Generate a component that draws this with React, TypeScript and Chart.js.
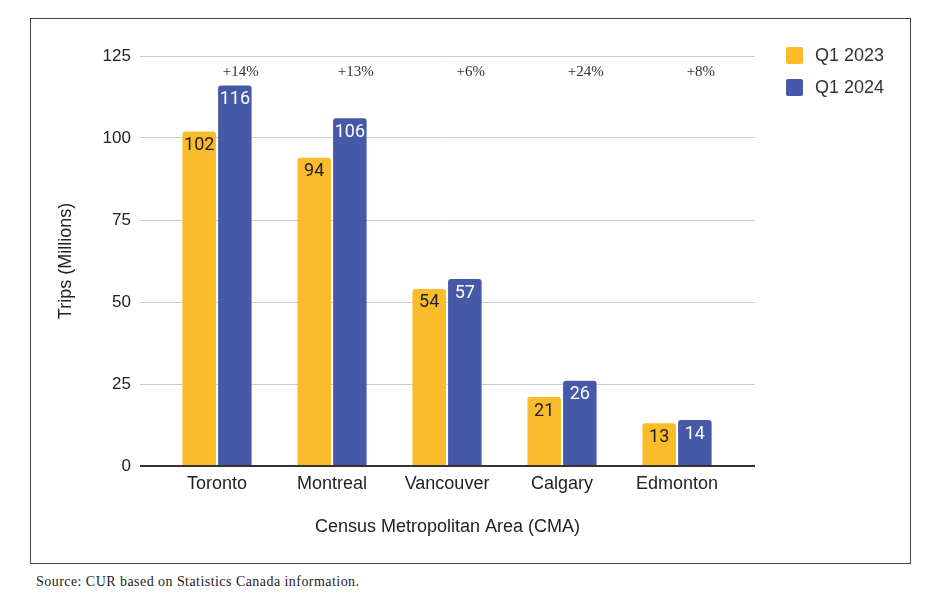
import React, { useEffect, useRef } from "react";
import { Chart, registerables } from "chart.js";

Chart.register(...registerables);

const categories = ["Toronto", "Montreal", "Vancouver", "Calgary", "Edmonton"];
const seriesNames = ["Q1 2023", "Q1 2024"];
const q12023 = [102, 94, 54, 21, 13];
const q12024 = [116, 106, 57, 26, 14];
const changeLabels = ["+14%", "+13%", "+6%", "+24%", "+8%"];
const yTicks = [0, 25, 50, 75, 100, 125];

const YELLOW = "#FBBC2C";
const BLUE = "#4559A8";
const SANS = "'Liberation Sans', Arial, sans-serif";

const labelsPlugin = {
  id: "labelsPlugin",
  afterDatasetsDraw(chart: any) {
    const ctx = chart.ctx;
    ctx.save();
    ctx.textAlign = "center";
    ctx.textBaseline = "middle";
    ctx.font = "18px Roboto, 'Liberation Sans', sans-serif";
    chart.data.datasets.forEach((ds: any, di: number) => {
      const meta = chart.getDatasetMeta(di);
      meta.data.forEach((bar: any, i: number) => {
        ctx.fillStyle = di === 0 ? "#1e1e1e" : "#ffffff";
        ctx.fillText(String(ds.data[i].y), bar.x, bar.y + 14);
      });
    });
    // percentage change labels
    const meta2 = chart.getDatasetMeta(1);
    ctx.font = "15px 'Liberation Serif', 'Times New Roman', serif";
    ctx.fillStyle = "#333";
    meta2.data.forEach((bar: any, i: number) => {
      ctx.fillText(changeLabels[i], bar.x + 6, chart.chartArea.top + 16);
    });
    ctx.restore();
  },
  afterDraw(chart: any) {
    const ctx = chart.ctx;
    const { right, top } = chart.chartArea;
    ctx.save();
    ctx.textAlign = "left";
    ctx.textBaseline = "middle";
    ctx.font = "18px " + SANS;
    chart.data.datasets.forEach((ds: any, di: number) => {
      const cy = top - 1 + di * 32;
      const x = right + 31;
      ctx.fillStyle = ds.backgroundColor;
      ctx.beginPath();
      ctx.roundRect(x, cy - 8, 17, 17, 2);
      ctx.fill();
      ctx.fillStyle = "#333";
      ctx.fillText(ds.label, x + 29, cy + 1);
    });
    ctx.restore();
  },
};

export default function App() {
  const ref = useRef<HTMLCanvasElement | null>(null);
  useEffect(() => {
    if (!ref.current) return;
    const chart = new Chart(ref.current, {
      type: "bar",
      data: {
        datasets: [
          {
            label: seriesNames[0],
            data: q12023.map((v, i) => ({ x: i, y: v })),
            backgroundColor: YELLOW,
            borderRadius: { topLeft: 3, topRight: 3 },
            borderSkipped: "bottom",
          },
          {
            label: seriesNames[1],
            data: q12024.map((v, i) => ({ x: i, y: v })),
            backgroundColor: BLUE,
            borderRadius: { topLeft: 3, topRight: 3 },
            borderSkipped: "bottom",
          },
        ],
      },
      options: {
        animation: false,
        responsive: false,
        devicePixelRatio: 1,
        categoryPercentage: 0.62,
        barPercentage: 0.94,
        layout: { padding: { top: 37, right: 155, left: 0, bottom: 0 } },
        plugins: { legend: { display: false }, tooltip: { enabled: false } },
        scales: {
          x: {
            type: "linear",
            min: -0.67,
            max: 4.678,
            offset: false,
            afterBuildTicks: (scale: any) => {
              scale.ticks = categories.map((_, i) => ({ value: i }));
            },
            ticks: {
              callback: (v: any) => categories[v as number] ?? "",
              font: { size: 18, family: SANS },
              color: "#222",
              padding: 7,
              maxRotation: 0,
              autoSkip: false,
            },
            grid: { display: false, drawTicks: false, offset: false },
            border: { display: false },
            title: {
              display: true,
              text: "Census Metropolitan Area (CMA)",
              font: { size: 18, family: SANS },
              color: "#222",
              padding: { top: 14.6, bottom: 25.2 },
            },
          },
          y: {
            min: 0,
            max: 125,
            afterBuildTicks: (scale: any) => {
              scale.ticks = yTicks.map((v) => ({ value: v }));
            },
            ticks: {
              font: { size: 17, family: SANS },
              color: "#222",
              padding: 9,
            },
            grid: {
              drawTicks: false,
              color: (c: any) => (c.tick && c.tick.value === 0 ? "#333" : "#cccccc"),
              lineWidth: (c: any) => (c.tick && c.tick.value === 0 ? 2 : 1),
            },
            border: { display: false },
            title: {
              display: true,
              text: "Trips (Millions)",
              font: { size: 18, family: SANS },
              color: "#222",
              padding: { top: 24.2, bottom: 16.8 },
            },
          },
        },
      },
      plugins: [labelsPlugin],
    } as any);
    return () => chart.destroy();
  }, []);

  return (
    <div>
      <div
        style={{
          position: "absolute",
          left: 30,
          top: 18,
          width: 879,
          height: 544,
          border: "1px solid #444",
          background: "#fff",
        }}
      >
        <canvas ref={ref} width={879} height={544} style={{ display: "block" }} />
      </div>
      <div
        style={{
          position: "absolute",
          left: 36,
          top: 574,
          fontFamily: "'Liberation Serif', 'Times New Roman', serif",
          fontSize: 14,
          color: "#222",
          letterSpacing: "0.45px",
        }}
      >
        Source: CUR based on Statistics Canada information.
      </div>
    </div>
  );
}
